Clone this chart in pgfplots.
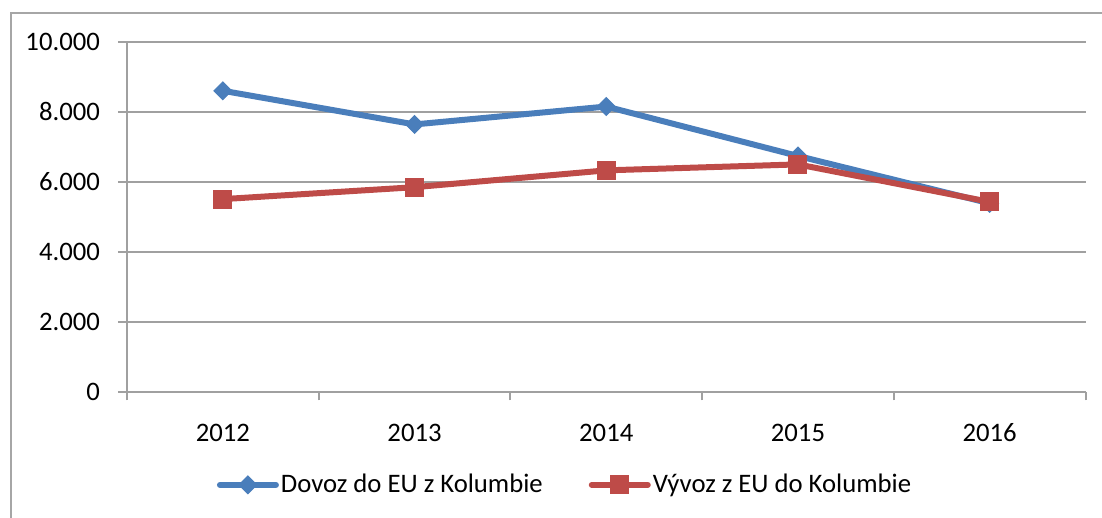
\documentclass[border=0pt]{standalone}
\usepackage{pgfplots}
\pgfplotsset{compat=1.18}
\usepackage{fontspec}
\setmainfont{Carlito}
\definecolor{cblue}{HTML}{4A7EBB}
\definecolor{cred}{HTML}{BE4B48}
\definecolor{cgrid}{HTML}{A0A0A0}
\definecolor{cframe}{HTML}{A6A6A6}
\begin{document}
\fontsize{26.7bp}{30bp}\selectfont
\begin{tikzpicture}[x=1bp,y=1bp]
\path[use as bounding box] (0,0) rectangle (1102,518);
\draw[cframe, line width=2bp] (10.7,0) -- (10.7,505.3) -- (1102,505.3);
\begin{axis}[
  at={(127bp,125.7bp)}, anchor=south west,
  scale only axis, width=958.5bp, height=350.6bp,
  xmin=-0.5, xmax=4.5, ymin=0, ymax=10000,
  axis lines*=left, axis line style={cgrid, line width=2bp, -},
  xtick={0,...,4}, xticklabels={2012,2013,2014,2015,2016},
  x tick style={draw=none},
  extra x ticks={-0.5,0.5,1.5,2.5,3.5,4.5},
  extra x tick labels={},
  extra x tick style={x tick style={draw=cgrid, line width=2bp}, major tick length=8bp, tick align=outside},
  ytick={0,2000,...,10000},
  y tick style={draw=cgrid, line width=2bp}, major tick length=9bp, tick align=outside,
  ymajorgrids, grid style={cgrid, line width=2bp},
  scaled y ticks=false,
  y tick label style={/pgf/number format/1000 sep={.}},
  /pgf/number format/assume math mode=true,
  tick label style={font=\fontsize{26.7bp}{30bp}\selectfont, text=black},
  yticklabel style={xshift=-9bp},
  xticklabel style={yshift=-13bp, text height=18bp, text depth=0bp},
  legend style={draw=none, fill=none, at={(0.457,-0.264)}, anchor=center,
    legend columns=2, font=\fontsize{26.7bp}{30bp}\selectfont,
    /tikz/every even column/.append style={column sep=44bp},
    inner sep=0pt},
  legend image code/.code={\draw[#1, line cap=round, mark repeat=2, mark phase=2] plot coordinates {(0bp,0bp) (28bp,0bp) (56bp,0bp)};},
  clip=false,
]
\addplot[cblue, line width=6bp, mark=square*, mark size=6.3bp, mark options={rotate=45, solid, fill=cblue, draw=cblue, line width=1bp}]
  coordinates {(0,8600) (1,7640) (2,8150) (3,6740) (4,5390)};
\addlegendentry{Dovoz do EU z Kolumbie}
\addplot[cred, line width=6bp, mark=square*, mark size=9bp, mark options={solid, fill=cred, draw=cred, line width=1bp}]
  coordinates {(0,5510) (1,5850) (2,6330) (3,6500) (4,5430)};
\addlegendentry{Vývoz z EU do Kolumbie}
\end{axis}
\end{tikzpicture}
\end{document}
